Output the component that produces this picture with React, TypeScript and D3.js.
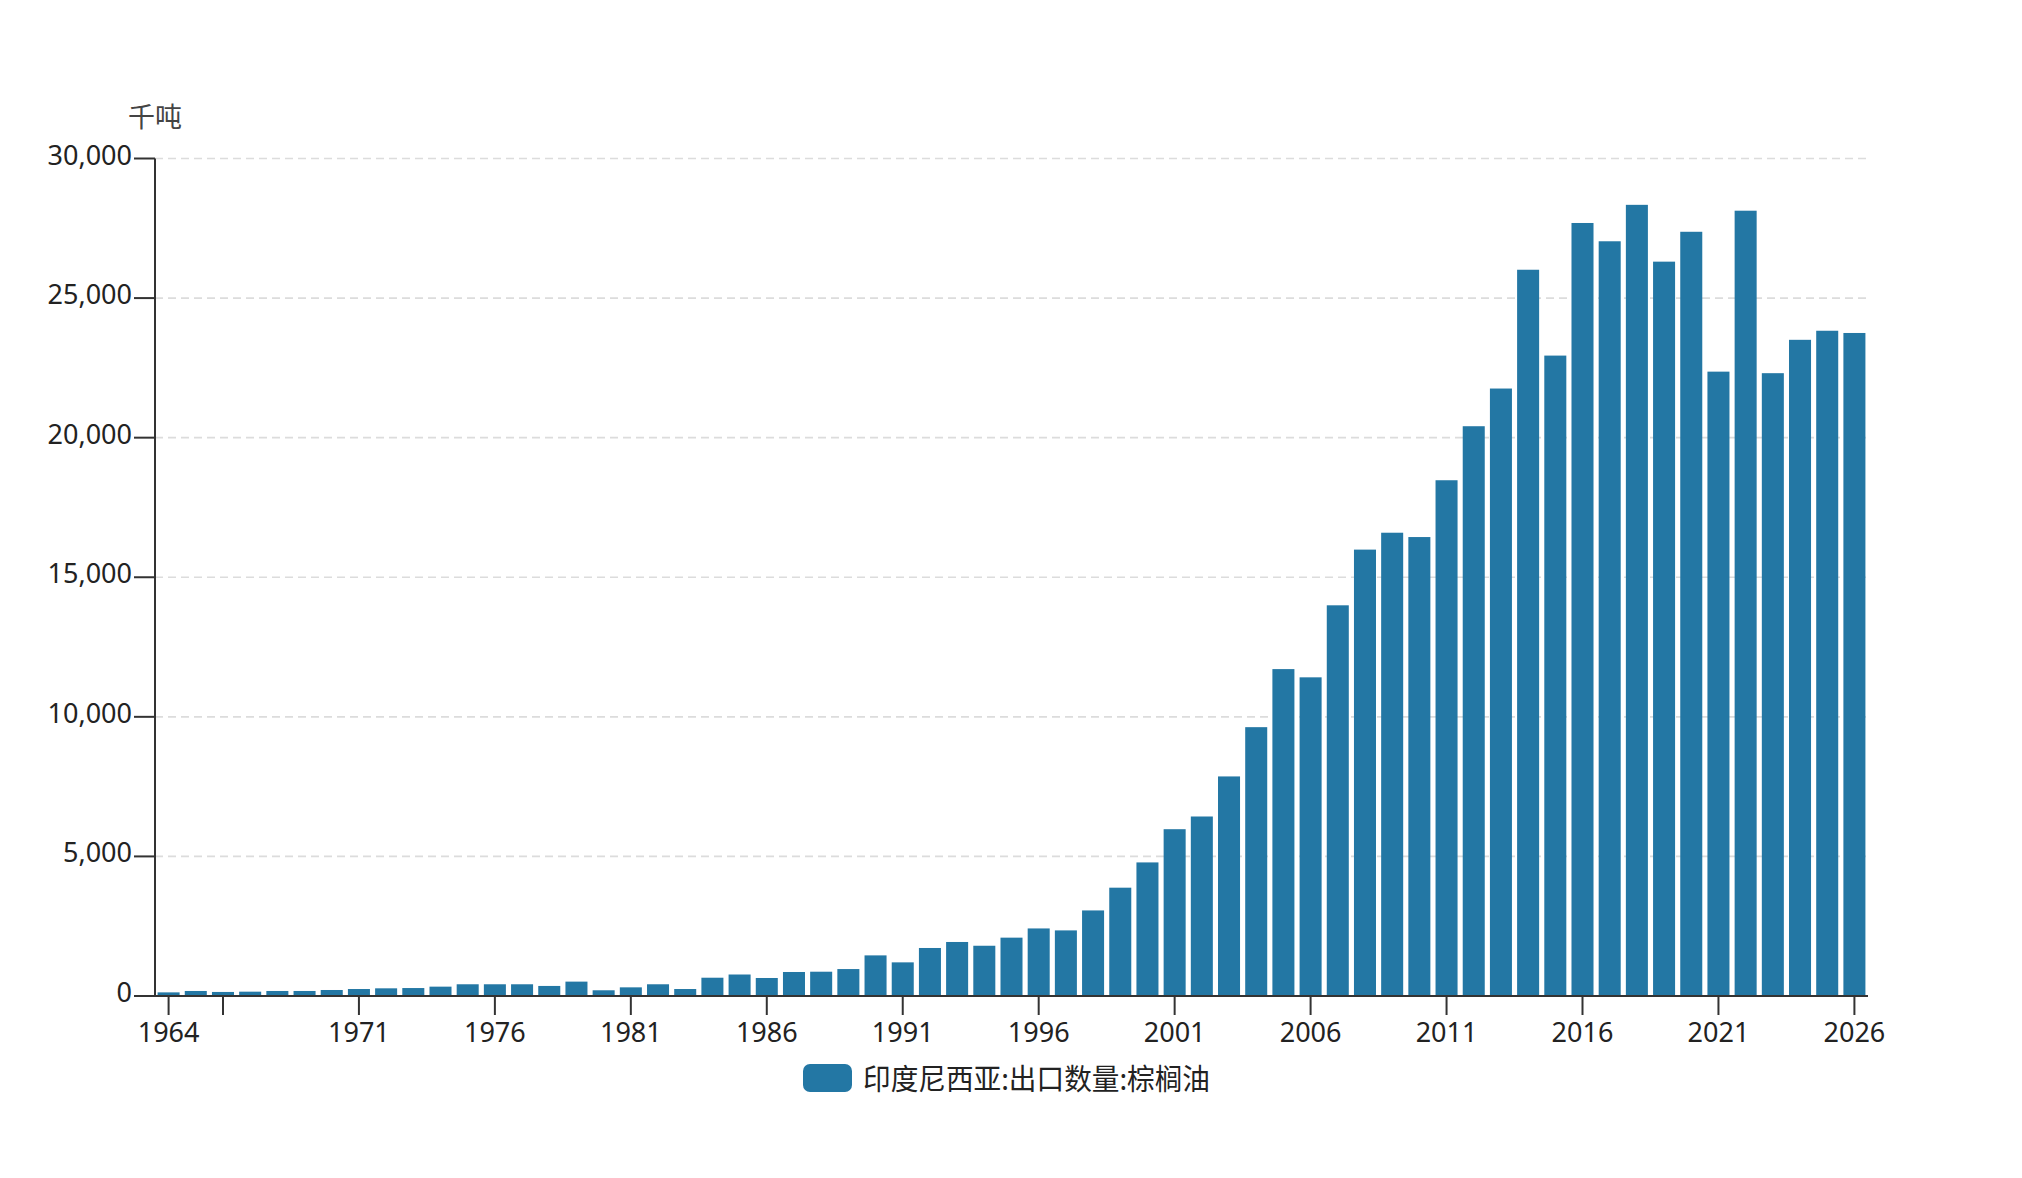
import React from "react";
import * as d3 from "d3";

// Indonesia palm oil export volume, thousand tonnes
const years: number[] = d3.range(1964, 2027);

const exportValues: number[] = [
  130, 180, 145, 155, 180, 180, 215, 250, 275, 285,
  335, 420, 420, 420, 360, 515, 205, 310, 420, 250,
  655, 770, 645, 860, 870, 965, 1455, 1205, 1720, 1935,
  1800, 2090, 2420, 2350, 3065, 3880, 4785, 5975, 6430, 7865,
  9630, 11710, 11415, 13995, 15990, 16595, 16440, 18475, 20410, 21760,
  26015, 22940, 27690, 27035, 28340, 26305, 27375, 22365, 28130, 22310,
  23505, 23830, 23750,
];

const yTicks: number[] = [0, 5000, 10000, 15000, 20000, 25000, 30000];
const xTickYears: number[] = [1964, 1966, 1971, 1976, 1981, 1986, 1991, 1996, 2001, 2006, 2011, 2016, 2021, 2026];
const xLabelYears: number[] = [1964, 1971, 1976, 1981, 1986, 1991, 1996, 2001, 2006, 2011, 2016, 2021, 2026];

const seriesName = "印度尼西亚:出口数量:棕榈油";
const unitLabel = "千吨";

const WIDTH = 2022;
const HEIGHT = 1178;
const margin = { left: 155, right: 2022 - 1868, top: 158.5, bottom: 1178 - 996 };

const BAR_COLOR = "#2377a4";
const AXIS_COLOR = "#333";
const FONT = "'Noto Sans', 'Noto Sans CJK SC', sans-serif";

const App: React.FC = () => {
  const x = d3
    .scaleBand<number>()
    .domain(years)
    .range([margin.left, WIDTH - margin.right])
    .paddingInner(0.19)
    .paddingOuter(0.095);

  const y = d3
    .scaleLinear()
    .domain([0, 30000])
    .range([HEIGHT - margin.bottom, margin.top]);

  const fmt = d3.format(",");
  const cx = (yr: number) => (x(yr) as number) + x.bandwidth() / 2;
  const y0 = y(0);

  return (
    <svg
      width={WIDTH}
      height={HEIGHT}
      style={{ position: "absolute", left: 0, top: 0, background: "#fff" }}
      fontFamily={FONT}
    >
      {/* grid */}
      {yTicks
        .filter((t) => t > 0)
        .map((t) => (
          <line
            key={"g" + t}
            x1={margin.left}
            x2={WIDTH - margin.right}
            y1={y(t)}
            y2={y(t)}
            stroke="#dcdcdc"
            strokeWidth={1.6}
            strokeDasharray="8 5"
          />
        ))}

      {/* bars */}
      {years.map((yr, i) => (
        <rect
          key={yr}
          x={x(yr)}
          y={y(exportValues[i])}
          width={x.bandwidth()}
          height={y0 - y(exportValues[i])}
          fill={BAR_COLOR}
        />
      ))}

      {/* y axis */}
      <line x1={margin.left} x2={margin.left} y1={margin.top} y2={y0} stroke={AXIS_COLOR} strokeWidth={2} />
      {yTicks.map((t) => (
        <g key={"y" + t}>
          <line x1={margin.left - 21} x2={margin.left} y1={y(t)} y2={y(t)} stroke={AXIS_COLOR} strokeWidth={2} />
          <text x={margin.left - 23} y={y(t) + 6} textAnchor="end" fontSize={27} fill="#222">
            {fmt(t)}
          </text>
        </g>
      ))}
      <text x={margin.left} y={115} textAnchor="middle" dominantBaseline="central" fontSize={27} fill="#444"
        fontFamily="'Noto Sans CJK SC', sans-serif">
        {unitLabel}
      </text>

      {/* x axis */}
      <line x1={margin.left - 21} x2={WIDTH - margin.right} y1={y0} y2={y0} stroke={AXIS_COLOR} strokeWidth={2} />
      {xTickYears.map((yr) => (
        <line key={"t" + yr} x1={cx(yr)} x2={cx(yr)} y1={y0} y2={y0 + 19} stroke={AXIS_COLOR} strokeWidth={2} />
      ))}
      {xLabelYears.map((yr) => (
        <text key={"l" + yr} x={cx(yr)} y={y0 + 45.5} textAnchor="middle" fontSize={27} fill="#222">
          {yr}
        </text>
      ))}

      {/* legend */}
      <rect x={803} y={1064} width={49} height={28} rx={7} fill={BAR_COLOR} />
      <text x={863} y={1077} dominantBaseline="central" fontSize={29} fill="#222"
        fontFamily="'Noto Sans CJK SC', sans-serif" textLength={347} lengthAdjust="spacingAndGlyphs">
        {seriesName}
      </text>
    </svg>
  );
};

export default App;
